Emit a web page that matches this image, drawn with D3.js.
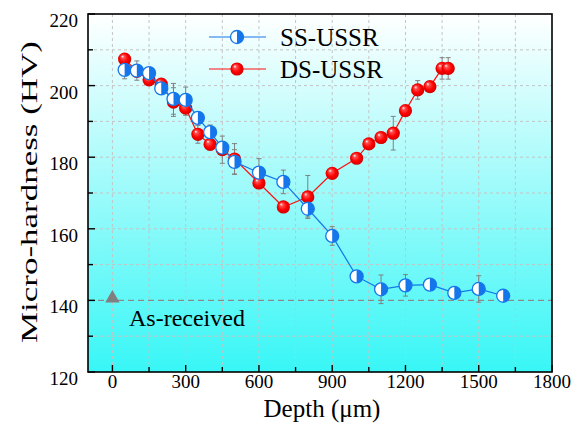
<!DOCTYPE html>
<html>
<head>
<meta charset="utf-8">
<script src="https://cdn.jsdelivr.net/npm/d3@7"></script>
<style>
  body { margin: 0; background: #fff; }
  svg { display: block; font-family: "Liberation Serif", "Times New Roman", serif; }
</style>
</head>
<body>
<div id="chart"></div>
<script>
// SS-USSR series
var ssDepth = [50, 100, 150, 200, 250, 300, 350, 400, 450, 500, 600, 700, 800, 900, 1000, 1100, 1200, 1300, 1400, 1500, 1600];
var ssHV    = [204.4, 204.2, 203.5, 199.2, 196.3, 196.0, 191.0, 187.0, 182.7, 178.7, 175.7, 173.1, 165.6, 158.0, 146.7, 143.1, 144.2, 144.4, 142.1, 143.2, 141.3];
var ssErr   = [2.5, 2.7, 1, 1, 4.3, 3.6, 1.5, 2, 1.5, 3.4, 3.9, 3.3, 2.3, 2.6, 1, 4, 3, 1, 1, 3.7, 1];

// DS-USSR series
var dsDepth = [50, 100, 150, 200, 250, 300, 350, 400, 450, 500, 600, 700, 800, 900, 1000, 1050, 1100, 1150, 1200, 1250, 1300, 1350, 1375];
var dsHV    = [207.4, 204.0, 201.6, 200.4, 195.4, 193.7, 186.4, 183.6, 182.1, 179.5, 172.8, 166.1, 168.9, 175.5, 179.7, 183.7, 185.5, 186.7, 193.0, 198.8, 199.7, 204.8, 204.8];
var dsErr   = [1.5, 1, 1.5, 1, 4, 2, 2.5, 1.5, 3.8, 4.3, 1.5, 1, 6, 1, 1, 1, 1.5, 4.7, 1, 2.6, 1, 3, 3];

// as-received reference
var asReceived = {depth: 0, hv: 140};

var xTicks = [0, 300, 600, 900, 1200, 1500, 1800];
var yTicks = [120, 140, 160, 180, 200, 220];
var xMinor = [150, 450, 750, 1050, 1350, 1650];
var yMinor = [130, 150, 170, 190, 210];

var W = 571, H = 423;
var pL = 88, pT = 14, pR = 552, pB = 372;

var blue = "#1476ea", red = "#ff1010";

var svg = d3.select("#chart").append("svg").attr("width", W).attr("height", H);

var x = d3.scaleLinear().domain([-100, 1800]).range([pL, pR]);
var y = d3.scaleLinear().domain([120, 220]).range([pB, pT]);

var defs = svg.append("defs");
var bg = defs.append("linearGradient").attr("id", "bg").attr("x1", 0).attr("y1", 0).attr("x2", 0).attr("y2", 1);
bg.append("stop").attr("offset", "0%").attr("stop-color", "#ffffff");
bg.append("stop").attr("offset", "100%").attr("stop-color", "#38f6f6");

var ball = defs.append("radialGradient").attr("id", "ball")
  .attr("cx", "50%").attr("cy", "50%").attr("r", "55%").attr("fx", "32%").attr("fy", "28%");
ball.append("stop").attr("offset", "0%").attr("stop-color", "#ffffff");
ball.append("stop").attr("offset", "22%").attr("stop-color", "#ff5050");
ball.append("stop").attr("offset", "60%").attr("stop-color", "#ff0000");
ball.append("stop").attr("offset", "100%").attr("stop-color", "#c80000");

// background
svg.append("rect").attr("x", pL).attr("y", pT).attr("width", pR - pL).attr("height", pB - pT)
  .attr("fill", "url(#bg)");

// grid
var grid = svg.append("g").attr("stroke", "#c4c4c4").attr("stroke-width", 1).attr("stroke-dasharray", "3,3");
grid.selectAll(".gx").data(xTicks.concat(xMinor).filter(function(d){ return d < 1800; })).enter().append("line")
  .attr("x1", function(d){ return x(d); }).attr("x2", function(d){ return x(d); })
  .attr("y1", pT).attr("y2", pB);
grid.selectAll(".gy").data(yTicks.concat(yMinor).filter(function(d){ return d > 120 && d < 220 && d != 140; })).enter().append("line")
  .attr("y1", function(d){ return y(d); }).attr("y2", function(d){ return y(d); })
  .attr("x1", pL).attr("x2", pR);

// as-received line
svg.append("line").attr("x1", pL).attr("x2", pR)
  .attr("y1", y(asReceived.hv)).attr("y2", y(asReceived.hv))
  .attr("stroke", "#8a8a8a").attr("stroke-width", 1.3).attr("stroke-dasharray", "6,4");

svg.append("path")
  .attr("d", d3.symbol().type(d3.symbolTriangle).size(90)())
  .attr("transform", "translate(" + x(asReceived.depth) + "," + (y(asReceived.hv) - 2) + ")")
  .attr("fill", "#808080");

svg.append("text").attr("x", 129).attr("y", 326).attr("font-size", 24).text("As-received");

// series helpers
function series(depth, hv) {
  return depth.map(function(d, i){ return [d, hv[i]]; });
}
function errorBars(depth, hv, err) {
  var g = svg.append("g").attr("stroke", "#808080").attr("stroke-width", 1);
  depth.forEach(function(d, i){
    var cx = x(d), y1 = y(hv[i] - err[i]), y2 = y(hv[i] + err[i]);
    g.append("line").attr("x1", cx).attr("x2", cx).attr("y1", y1).attr("y2", y2);
    g.append("line").attr("x1", cx - 2.5).attr("x2", cx + 2.5).attr("y1", y1).attr("y2", y1);
    g.append("line").attr("x1", cx - 2.5).attr("x2", cx + 2.5).attr("y1", y2).attr("y2", y2);
  });
}
var line = d3.line().x(function(d){ return x(d[0]); }).y(function(d){ return y(d[1]); });

function redBall(g, cx, cy) {
  g.append("circle").attr("cx", cx).attr("cy", cy).attr("r", 6.6).attr("fill", "url(#ball)");
}
function blueHalf(g, cx, cy) {
  var r = 6.5;
  g.append("circle").attr("cx", cx).attr("cy", cy).attr("r", r).attr("fill", "#ffffff");
  g.append("path").attr("d", "M" + cx + "," + (cy - r) + " A" + r + "," + r + " 0 0 1 " + cx + "," + (cy + r) + " Z")
    .attr("fill", blue);
  g.append("circle").attr("cx", cx).attr("cy", cy).attr("r", r).attr("fill", "none")
    .attr("stroke", blue).attr("stroke-width", 1.3);
}

var ds = series(dsDepth, dsHV), ss = series(ssDepth, ssHV);

errorBars(dsDepth, dsHV, dsErr);
errorBars(ssDepth, ssHV, ssErr);

svg.append("path").datum(ds).attr("d", line).attr("fill", "none").attr("stroke", red).attr("stroke-width", 1.2);
var gRed = svg.append("g");
ds.forEach(function(p){ redBall(gRed, x(p[0]), y(p[1])); });

svg.append("path").datum(ss).attr("d", line).attr("fill", "none").attr("stroke", blue).attr("stroke-width", 1.2);
var gBlue = svg.append("g");
ss.forEach(function(p){ blueHalf(gBlue, x(p[0]), y(p[1])); });

// frame
svg.append("rect").attr("x", pL).attr("y", pT).attr("width", pR - pL).attr("height", pB - pT)
  .attr("fill", "none").attr("stroke", "#000").attr("stroke-width", 1.6);

// ticks (inward)
var tk = svg.append("g").attr("stroke", "#000").attr("stroke-width", 1.4);
xTicks.concat(xMinor).forEach(function(d){
  tk.append("line").attr("x1", x(d)).attr("x2", x(d)).attr("y1", pB).attr("y2", pB - (xTicks.indexOf(d) >= 0 ? 7 : 5));
});
yTicks.concat(yMinor).forEach(function(d){
  tk.append("line").attr("y1", y(d)).attr("y2", y(d)).attr("x1", pL).attr("x2", pL + (yTicks.indexOf(d) >= 0 ? 7 : 5));
});

// tick labels
svg.append("g").selectAll("text").data(xTicks).enter().append("text")
  .attr("x", function(d){ return x(d); }).attr("y", 388)
  .attr("text-anchor", "middle").attr("font-size", 19).text(function(d){ return d; });
svg.append("g").selectAll("text").data(yTicks).enter().append("text")
  .attr("x", pL - 10).attr("y", function(d){ return y(d) + 13; })
  .attr("text-anchor", "end").attr("font-size", 19).text(function(d){ return d; });

// axis titles
svg.append("text").attr("x", 322).attr("y", 417).attr("text-anchor", "middle").attr("font-size", 25).text("Depth (μm)");
svg.append("text").attr("transform", "translate(37,192) rotate(-90)").attr("text-anchor", "middle")
  .attr("font-size", 24).attr("textLength", 302).attr("lengthAdjust", "spacingAndGlyphs")
  .text("Micro-hardness (HV)");

// legend
var lg = svg.append("g");
lg.append("line").attr("x1", 209).attr("x2", 266).attr("y1", 37).attr("y2", 37).attr("stroke", blue).attr("stroke-width", 1.2);
blueHalf(lg, 237, 37);
lg.append("text").attr("x", 280).attr("y", 46).attr("font-size", 25).text("SS-USSR");
lg.append("line").attr("x1", 209).attr("x2", 266).attr("y1", 69).attr("y2", 69).attr("stroke", red).attr("stroke-width", 1.2);
redBall(lg, 237, 69);
lg.append("text").attr("x", 280).attr("y", 78).attr("font-size", 25).text("DS-USSR");
</script>
</body>
</html>
